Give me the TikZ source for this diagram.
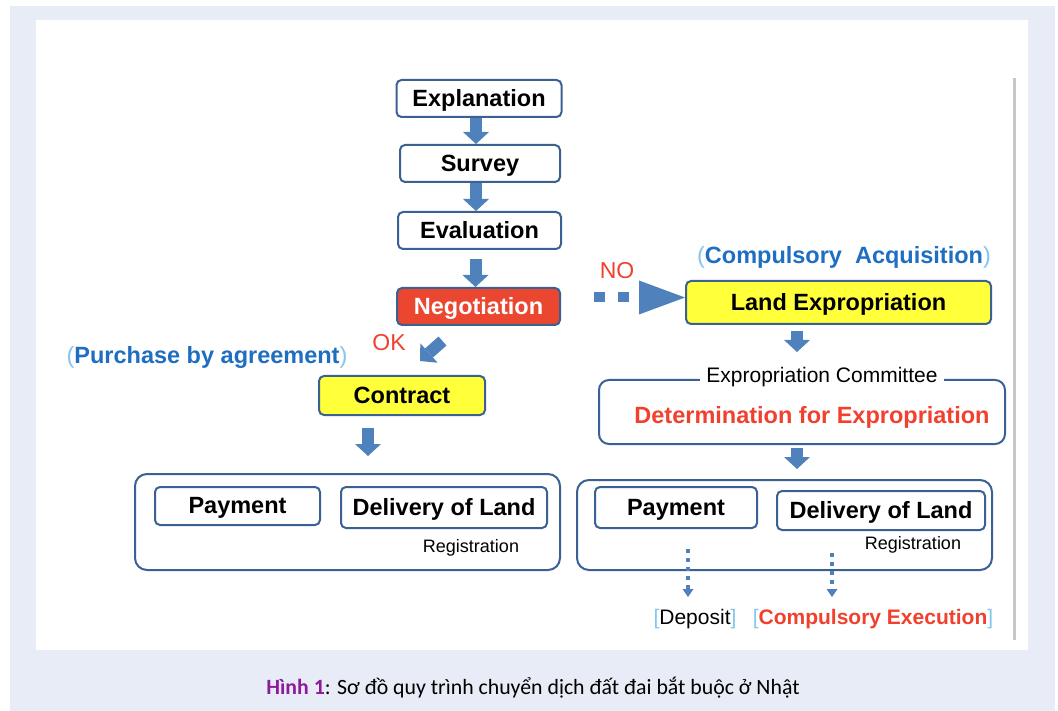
\documentclass[tikz,border=0pt]{standalone}
\usepackage{fontspec}
\setmainfont{Liberation Sans}
\newfontfamily\captionfont{Carlito}
\definecolor{pagelav}{HTML}{E8ECF6}
\definecolor{boxblue}{HTML}{3B6193}
\definecolor{arrowblue}{HTML}{4F81BD}
\definecolor{negred}{HTML}{EA4630}
\definecolor{fillyellow}{HTML}{FFFF3A}
\definecolor{textblue}{HTML}{1E6EC2}
\definecolor{parenblue}{HTML}{86C6EE}
\definecolor{textred}{HTML}{F2402E}
\definecolor{capviolet}{HTML}{8E1B9C}
\usepackage{tikz}
\usetikzlibrary{arrows.meta, calc}
\newcommand\bigbold{\fontsize{23.5}{28}\selectfont\bfseries}
\newcommand\midreg{\fontsize{21}{25}\selectfont}
\newcommand\smallreg{\fontsize{18}{22}\selectfont}

\begin{document}
\begin{tikzpicture}[x=1pt, y=-1pt,
    stepbox/.style={draw=boxblue, line width=2pt, rounded corners=5pt,
      fill=white, inner sep=0pt, text depth=1pt, font=\bigbold},
    groupbox/.style={draw=boxblue, line width=2pt, rounded corners=12pt,
      inner sep=0pt},
    flowarrow/.style={draw=arrowblue, line width=12pt,
      -{Triangle[width=26pt, length=12pt, line width=0pt]}},
    noarrow/.style={draw=arrowblue, line width=10pt, dash pattern=on 11pt off 13pt,
      -{Triangle[width=34pt, length=46pt, line width=0pt]}},
    dotarrow/.style={draw=arrowblue, line width=4pt, dash pattern=on 4pt off 5pt,
      -{Triangle[width=11pt, length=8pt, line width=0pt]}}]
    % --- page and panel ---
    \useasboundingbox (0,0) rectangle (1058,711);
    \fill[pagelav] (10,6) rectangle (1055,711);
    \fill[white] (36,20) rectangle (1028,650);
    \draw[black!22, line width=3pt] (1014,78) -- (1014,640);
    % --- common steps ---
    \node[stepbox, minimum width=165pt, minimum height=37pt] (expl) at (479,98.5) {Explanation};
    \node[stepbox, minimum width=160pt, minimum height=37pt] (survey) at (480,163.5) {Survey};
    \node[stepbox, minimum width=163pt, minimum height=37pt] (eval) at (479.5,230.5) {Evaluation};
    \node[stepbox, fill=negred, text=white, minimum width=163pt, minimum height=37pt]
      (nego) at (478.5,306.5) {Negotiation};
    \draw[flowarrow] ([xshift=-3pt]expl.south) -- ([xshift=-4pt]survey.north);
    \draw[flowarrow] ([xshift=-4pt]survey.south) -- ([xshift=-4pt]survey.south |- eval.north);
    \draw[flowarrow, shorten <=9pt] ([xshift=-4pt]eval.south) -- ([xshift=-4pt]eval.south |- nego.north);
    % --- purchase by agreement ---
    \node[text=textred, font=\fontsize{23}{27}\selectfont] (ok) at (389,343) {OK};
    \node[text=textblue, font=\bigbold] (purchase) at (207,357)
      {{\color{parenblue}\mdseries(}Purchase by agreement{\color{parenblue}\mdseries)}};
    \node[stepbox, fill=fillyellow, minimum width=166pt, minimum height=39pt]
      (contract) at (402,395.5) {Contract};
    \draw[flowarrow] ([xshift=-36pt, yshift=-15pt]nego.south) -- ([xshift=18pt, yshift=14pt]contract.north);
    \node[groupbox, minimum width=425pt, minimum height=96pt] (leftbox) at (347.5,522) {};
    \node[stepbox, minimum width=165pt, minimum height=38pt] (lpay) at (237.5,506) {Payment};
    \node[stepbox, minimum width=206pt, minimum height=41pt] (ldeliv) at (444,507.5) {Delivery of Land};
    \node[font=\smallreg] (lreg) at (471,548) {Registration};
    \draw[flowarrow, shorten <=12pt, shorten >=17pt] ([xshift=-34pt]contract.south)
      -- ([xshift=-34pt]contract.south |- leftbox.north);
    % --- compulsory acquisition ---
    \node[text=textred, font=\fontsize{23}{27}\selectfont] (no) at (617,271) {NO};
    \node[text=textblue, font=\bigbold] (compuls) at (844,257)
      {{\color{parenblue}\mdseries(}Compulsory\ \ Acquisition{\color{parenblue}\mdseries)}};
    \node[stepbox, fill=fillyellow, minimum width=305pt, minimum height=43pt]
      (landexp) at (838.5,302.5) {Land Expropriation};
    \draw[noarrow, shorten <=33pt] ([yshift=5pt]landexp.west -| nego.east) -- ([yshift=5pt]landexp.west);
    \node[groupbox, rounded corners=10pt, minimum width=406pt, minimum height=64pt]
      (commit) at (802,412) {};
    \node[fill=white, font=\midreg, inner xsep=6pt, inner ysep=1pt] (committitle) at (822,377)
      {Expropriation Committee};
    \node[text=textred, font=\bigbold] (determ) at (812,417) {Determination for Expropriation};
    \draw[flowarrow, shorten <=6pt, shorten >=27pt] ([xshift=-41.5pt]landexp.south)
      -- ([xshift=-41.5pt]landexp.south |- commit.north);
    \node[groupbox, minimum width=415pt, minimum height=90pt] (rightbox) at (784.5,525) {};
    \draw[flowarrow, shorten <=3pt, shorten >=10pt] ([xshift=-5pt]commit.south)
      -- ([xshift=-5pt]commit.south |- rightbox.north);
    \node[stepbox, minimum width=162pt, minimum height=41pt] (rpay) at (676,507.5) {Payment};
    \node[stepbox, minimum width=208pt, minimum height=39pt] (rdeliv) at (881,510.5) {Delivery of Land};
    \node[font=\smallreg] (rreg) at (913,545) {Registration};
    \node[font=\midreg, inner sep=0pt] (depo) at (695,619)
      {{\color{parenblue}[}Deposit{\color{parenblue}]}};
    \node[font=\midreg, inner sep=0pt] (execut) at (873,619)
      {{\color{parenblue}[}\textcolor{textred}{\bfseries Compulsory Execution}{\color{parenblue}]}};
    \draw[dotarrow, shorten <=20pt, shorten >=12pt] ([xshift=12pt]rpay.south)
      -- ([xshift=12pt]rpay.south |- depo.north);
    \draw[dotarrow, shorten <=22pt, shorten >=12pt] ([xshift=-49pt]rdeliv.south)
      -- ([xshift=-49pt]rdeliv.south |- execut.north);
    % --- caption ---
    \node[font=\captionfont\fontsize{21.8}{26}\selectfont] (caption) at (533,688)
      {\textcolor{capviolet}{\bfseries Hình 1}: Sơ đồ quy trình chuyển dịch đất đai bắt buộc ở Nhật};
\end{tikzpicture}
\end{document}
